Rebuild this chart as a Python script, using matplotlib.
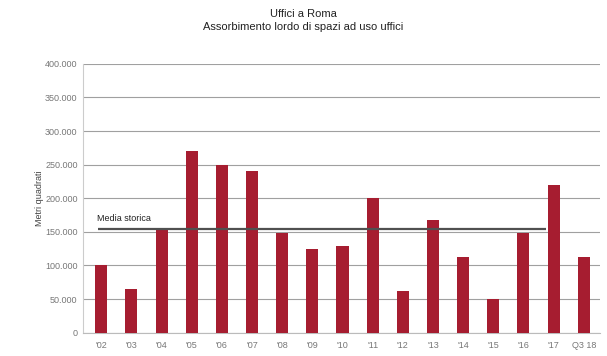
import matplotlib.pyplot as plt
from matplotlib.ticker import FuncFormatter

plt.rcParams['font.family'] = ['Liberation Sans Narrow', 'Liberation Sans', 'DejaVu Sans']

# assorbimento lordo annuo (mq)
anni = ["'02", "'03", "'04", "'05", "'06", "'07", "'08", "'09", "'10",
        "'11", "'12", "'13", "'14", "'15", "'16", "'17", "Q3 18"]
assorbimento = [100000, 65000, 153000, 270000, 250000, 240000, 148000,
                125000, 129000, 200000, 62000, 168000, 113000, 50000,
                149000, 220000, 112000]
media_storica = 154000

fig = plt.figure(figsize=(6.07, 3.56), dpi=100)
ax = fig.add_axes([0.137, 0.0655, 0.851, 0.755])

x = range(len(anni))
ax.bar(x, assorbimento, width=0.4, color='#a61d30', zorder=3)

ax.hlines(media_storica, -0.1, 14.75, color='#505050', lw=1.6, zorder=4)
ax.text(-0.15, media_storica + 9000, 'Media storica', fontsize=6.5,
        color='#222222', va='bottom', ha='left')

ax.set_ylim(0, 400000)
ax.set_xlim(-0.6, 16.53)
ax.set_yticks(range(0, 400001, 50000))
ax.yaxis.set_major_formatter(FuncFormatter(lambda v, p: f'{int(v):,}'.replace(',', '.')))
ax.set_xticks(list(x))
ax.set_xticklabels(anni)
ax.tick_params(axis='y', labelsize=6.5, colors='#777777', length=0, pad=4)
ax.tick_params(axis='x', labelsize=6.5, colors='#777777', length=0, pad=6)
ax.grid(axis='y', color='#a0a0a0', lw=0.8, zorder=0)

for s in ['top', 'right']:
    ax.spines[s].set_visible(False)
ax.spines['left'].set_color('#cccccc')
ax.spines['bottom'].set_color('#bbbbbb')

ax.set_ylabel('Metri quadrati', fontsize=6.5, color='#444444', labelpad=1)

fig.text(0.5, 0.952, 'Uffici a Roma', ha='center', fontsize=8, color='#222222')
fig.text(0.5, 0.915, 'Assorbimento lordo di spazi ad uso uffici', ha='center',
         fontsize=8, color='#222222')

fig.savefig('out.png', dpi=100)
